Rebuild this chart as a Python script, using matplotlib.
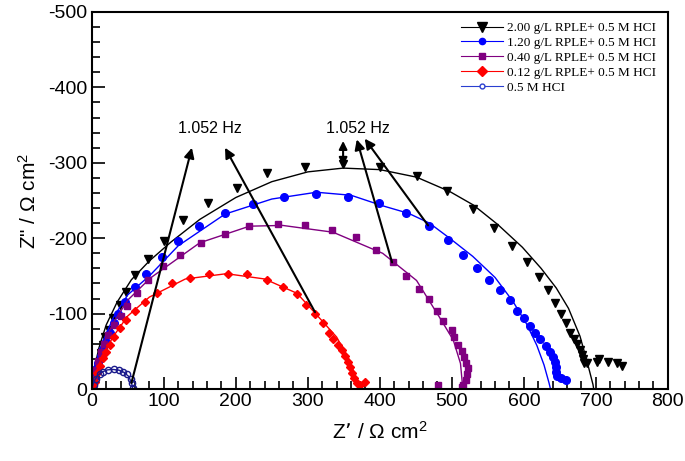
import numpy as np
import matplotlib
matplotlib.use('Agg')
from matplotlib import pyplot as plt
from matplotlib.ticker import MultipleLocator

plt.rcParams['font.family'] = ['Liberation Sans', 'DejaVu Sans']
plt.rcParams['mathtext.default'] = 'regular'
plt.rcParams['axes.unicode_minus'] = False

# 2.00 g/L RPLE + 0.5 M HCl
x_200 = [1.5, 4, 7, 10, 12.5, 15, 18, 23.6, 29, 39, 47.5, 60, 78, 100, 126, 161, 201, 244, 296, 349,
         400, 451, 493, 529, 558, 583, 604, 621, 633, 643, 651, 658, 664, 669, 674, 678, 680.5, 682, 683,
         687, 701, 704, 717, 729, 736]
y_200 = [-3, -12, -22, -36, -48, -58, -69, -79, -94, -111, -129, -151, -173, -196, -224, -247, -267, -286, -295, -298,
         -295, -283, -263, -239, -214, -190, -168, -148, -131, -114, -99, -87, -75, -67, -60, -52, -45, -40, -34,
         -34, -36, -40, -36, -34, -30]
fx_200 = [0, 3, 10, 20, 35, 55, 80, 110, 150, 200, 250, 300, 349, 400, 451, 497, 530, 564, 598, 624, 645, 662, 678, 689, 696, 697]
fy_200 = [0, -25, -55, -85, -115, -145, -170, -195, -225, -254, -275, -288, -293, -291, -281, -262, -244, -218, -188, -160, -134, -107, -70, -32, -6, 0]

# 1.20 g/L RPLE + 0.5 M HCl
x_120 = [0.5, 1.4, 2.8, 5.8, 8.5, 12.5, 15, 19.6, 25, 30.5, 37, 46, 60, 75, 97, 120, 149, 185, 224, 267,
         311, 356, 399, 437, 468, 494, 515, 535, 551, 567, 581, 590, 600, 608, 615, 623, 631, 637, 641,
         643, 645, 644, 646, 651, 658]
y_120 = [-1, -8, -16, -26, -34, -44, -53, -62, -74, -87, -100, -116, -135, -153, -175, -196, -216, -233, -246, -255,
         -259, -255, -247, -234, -216, -198, -178, -160, -145, -131, -118, -104, -94, -83, -74, -66, -57, -49, -42,
         -36, -29, -22, -17, -15, -12]
fx_120 = [0, 5, 15, 30, 50, 81, 120, 185, 250, 312, 360, 404, 440, 469, 497, 529, 560, 585, 604, 618, 628, 635, 637]
fy_120 = [0, -28, -62, -95, -125, -151, -190, -232, -252, -261, -257, -243, -233, -220, -200, -176, -148, -116, -86, -58, -32, -8, 0]

# 0.40 g/L RPLE + 0.5 M HCl
x_040 = [1.4, 3, 5.5, 8, 12.5, 17, 22, 31, 40, 49, 63, 78, 99, 122, 151, 185, 219, 258, 296, 333,
         367, 394, 418, 437, 455, 468, 479, 488, 500, 503, 508, 514, 517, 520, 522, 521, 519, 515, 514, 481]
y_040 = [-4, -13, -25, -37, -49, -60, -72, -85, -97, -110, -127, -144, -163, -178, -194, -206, -216, -219, -217, -211,
         -201, -185, -168, -150, -133, -119, -103, -90, -79, -69, -58, -50, -42, -34, -28, -20, -12, -5, -3, -5]
fx_040 = [0, 5, 15, 30, 50, 81, 150, 219, 265, 335, 404, 451, 483, 502, 512, 515, 515]
fy_040 = [0, -26, -58, -88, -118, -147, -194, -216, -217, -208, -180, -144, -95, -65, -34, -3, 0]

# 0.12 g/L RPLE + 0.5 M HCl
x_012 = [1.4, 4, 7, 11, 15, 19.6, 25, 30.5, 38.5, 47, 60, 74, 90, 112, 137, 163, 189, 216, 243, 265,
         285, 298, 310, 321, 329, 335, 342, 347, 351, 356, 358, 362, 364, 368, 373, 379]
y_012 = [-1, -9, -21, -30, -41, -49, -59, -69, -81, -91, -103, -116, -128, -140, -147, -152, -153, -152, -145, -136,
         -126, -111, -99, -87, -75, -67, -58, -52, -44, -36, -29, -21, -15, -8, -5, -9]
fx_012 = [0, 5, 15, 30, 50, 80, 130, 187, 240, 285, 307, 340, 358, 368, 370]
fy_012 = [0, -20, -45, -70, -97, -122, -146, -153, -146, -127, -104, -69, -38, -12, 0]

# 0.5 M HCl
x_hcl = [2.8, 5.6, 11, 15, 22, 30.5, 37.5, 43, 49, 54, 56, 57]
y_hcl = [-5, -14, -20, -22, -25, -26, -25, -23, -20, -14, -8, -2]
fx_hcl = [0, 3, 8, 15, 22, 30, 38, 45, 51, 55, 57]
fy_hcl = [0, -10, -18, -23, -25.5, -26, -25, -22, -17, -9, 0]

labels = ['2.00 g/L RPLE+ 0.5 M HCI', '1.20 g/L RPLE+ 0.5 M HCI', '0.40 g/L RPLE+ 0.5 M HCI',
          '0.12 g/L RPLE+ 0.5 M HCI', '0.5 M HCI']

fig = plt.figure(figsize=(6.85, 4.61), dpi=100)
ax = fig.add_axes([0.134, 0.156, 0.841, 0.818])

ax.plot(fx_200, fy_200, color='black', lw=1)
ax.plot(x_200, y_200, 'v', color='black', ms=6, ls='none')
ax.plot(fx_120, fy_120, color='blue', lw=1)
ax.plot(x_120, y_120, 'o', color='blue', ms=5.5, ls='none')
ax.plot(fx_040, fy_040, color='purple', lw=1)
ax.plot(x_040, y_040, 's', color='purple', ms=5, ls='none')
ax.plot(fx_012, fy_012, color='red', lw=1)
ax.plot(x_012, y_012, 'D', color='red', ms=4.5, ls='none')
ax.plot(fx_hcl, fy_hcl, color='#1a1a8c', lw=1)
ax.plot(x_hcl, y_hcl, 'o', mfc='none', mec='#1a1a8c', mew=1, ms=4.5, ls='none')

# legend handles
h1, = ax.plot([], [], '-v', color='black', lw=0.8, ms=6.5)
h2, = ax.plot([], [], '-o', color='blue', lw=0.8, ms=4.5)
h3, = ax.plot([], [], '-s', color='purple', lw=0.8, ms=4.5, mfc='purple')
h4, = ax.plot([], [], '-D', color='red', lw=0.8, ms=5.5)
h5, = ax.plot([], [], '-o', color='#2a3fd0', lw=0.8, ms=3.5, mfc='white')
leg = ax.legend([h1, h2, h3, h4, h5], labels, loc='upper right', frameon=False,
                prop={'family': 'Liberation Serif', 'size': 9.5}, handlelength=3.2,
                labelspacing=0.2, handletextpad=0.3, bbox_to_anchor=(1.0, 1.005))

# frequency arrows
arr = dict(arrowstyle='-|>', color='black', lw=1.5, mutation_scale=15, shrinkA=0, shrinkB=0)
ax.annotate('', xy=(139, -320), xytext=(55, -8), arrowprops=arr)
ax.annotate('', xy=(185, -320), xytext=(310, -102), arrowprops=arr)
ax.annotate('', xy=(368, -331), xytext=(417, -168), arrowprops=arr)
ax.annotate('', xy=(379, -332), xytext=(467, -217), arrowprops=arr)
ax.annotate('', xy=(349, -329), xytext=(349, -296),
            arrowprops=dict(arrowstyle='<|-|>', color='black', lw=1.5, mutation_scale=12, shrinkA=0, shrinkB=0))
ax.text(164, -345, '1.052 Hz', ha='center', va='center', fontsize=11.5)
ax.text(369, -345, '1.052 Hz', ha='center', va='center', fontsize=11.5)

ax.set_xlim(0, 800)
ax.set_ylim(0, -500)
ax.xaxis.set_major_locator(MultipleLocator(100))
ax.xaxis.set_minor_locator(MultipleLocator(20))
ax.yaxis.set_major_locator(MultipleLocator(100))
ax.yaxis.set_minor_locator(MultipleLocator(20))
ax.tick_params(which='both', direction='in', top=False, right=False, width=1.2)
ax.tick_params(which='major', length=9, labelsize=14, pad=3)
ax.tick_params(which='minor', length=6)
for s in ax.spines.values():
    s.set_linewidth(1.5)

ax.set_xlabel('Z\u2019 / \u03a9 cm$^2$', fontsize=15, labelpad=8)
ax.set_ylabel('Z" / \u03a9 cm$^2$', fontsize=15, labelpad=6)

fig.savefig('out.png', dpi=100)
